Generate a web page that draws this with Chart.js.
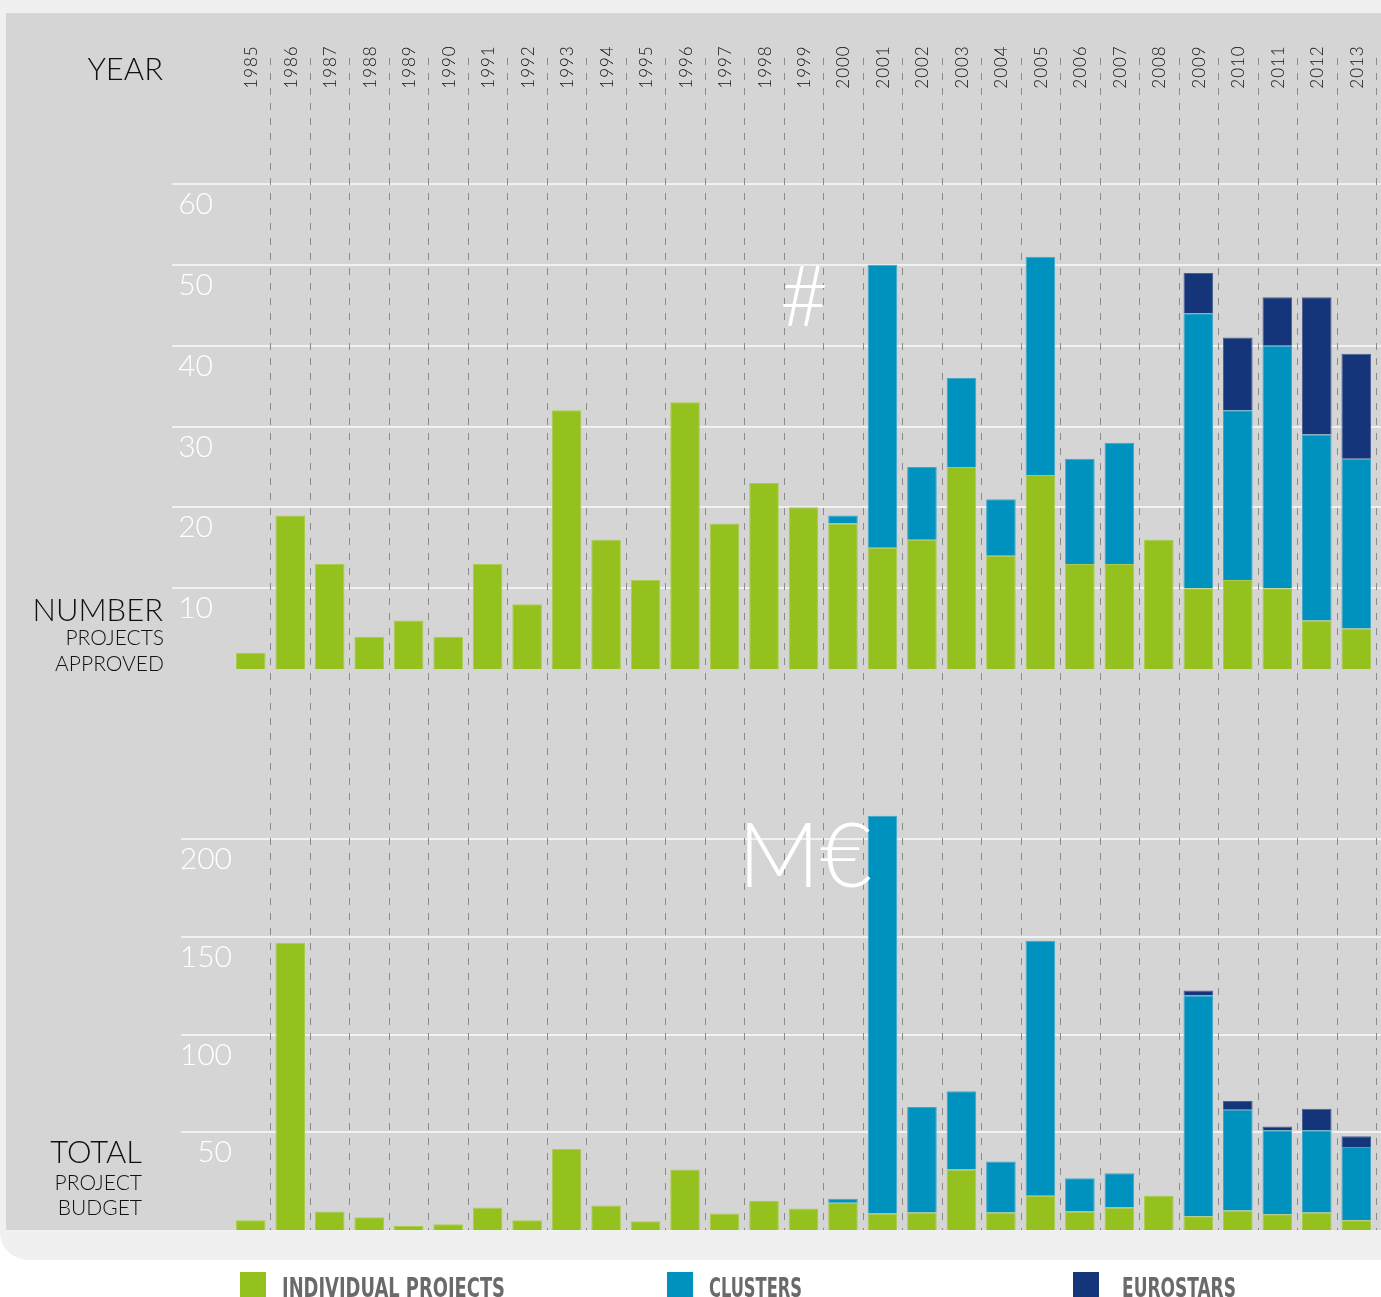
<!DOCTYPE html>
<html>
<head>
<meta charset="utf-8">
<title>Projects approved and total project budget, 1985–2013</title>
<script src="https://cdn.jsdelivr.net/npm/chart.js@4.4.1/dist/chart.umd.min.js"></script>
<style>
  html, body { margin: 0; padding: 0; background: #ffffff; }
  #wrap { position: relative; width: 1381px; height: 1297px; overflow: hidden; }
  #frame { position: absolute; left: 0; top: 0; width: 1381px; height: 1260px; background: #f0f0f0; border-bottom-left-radius: 28px; }
  #panel { position: absolute; left: 6px; top: 13px; width: 1375px; height: 1217px; background: #d5d5d5; }
  canvas { position: absolute; left: 0; }
  #countChart { top: 0; }
  #budgetChart { top: 750px; }
  svg { position: absolute; left: 0; top: 0; pointer-events: none; }
</style>
</head>
<body>
<div id="wrap">
  <div id="frame"></div>
  <div id="panel"></div>
  <canvas id="countChart" width="1381" height="750"></canvas>
  <canvas id="budgetChart" width="1381" height="500"></canvas>
  <svg width="1381" height="1297" xmlns="http://www.w3.org/2000/svg">
    <g font-family="Lato, 'Open Sans', sans-serif" font-weight="300" fill="#111111" text-anchor="end">
      <text x="163" y="80" font-size="31">YEAR</text>
      <text x="163" y="621" font-size="31">NUMBER</text>
      <text x="164" y="645" font-size="21">PROJECTS</text>
      <text x="164" y="671" font-size="21">APPROVED</text>
      <text x="142" y="1163" font-size="31">TOTAL</text>
      <text x="142" y="1190" font-size="21">PROJECT</text>
      <text x="142" y="1215" font-size="21">BUDGET</text>
    </g>
    <g font-family="Lato, 'Open Sans', sans-serif" font-weight="300" fill="#ffffff" text-anchor="middle">
      <text x="804" y="326" font-size="84">#</text>
      <text x="805" y="887" font-size="90">M€</text>
    </g>
    <g id="legend" font-family="'Liberation Sans Narrow', 'DejaVu Sans Condensed', sans-serif" font-weight="bold" font-size="26" fill="#6a6a6a"></g>
  </svg>
</div>
<script>
// Years on the shared category axis
const years = ['1985','1986','1987','1988','1989','1990','1991','1992','1993','1994',
               '1995','1996','1997','1998','1999','2000','2001','2002','2003','2004',
               '2005','2006','2007','2008','2009','2010','2011','2012','2013'];

// Number of projects approved per year
const countIndividual = [2,19,13,4,6,4,13,8,32,16,11,33,18,23,20,18,15,16,25,14,24,13,13,16,10,11,10,6,5];
const countClusters   = [null,null,null,null,null,null,null,null,null,null,null,null,null,null,null,
                         1,35,9,11,7,27,13,15,null,34,21,30,23,21];
const countEurostars  = [null,null,null,null,null,null,null,null,null,null,null,null,null,null,null,
                         null,null,null,null,null,null,null,null,null,5,9,6,17,13];

// Total project budget per year (M€)
const budgetIndividual = [5,147,9.5,6.5,2,3,11.5,5,41.5,12.5,4.5,31,8.5,15,11,14,8.5,9,31,9,17.5,9.5,11.5,17.5,7,10,8,9,5];
const budgetClusters   = [null,null,null,null,null,null,null,null,null,null,null,null,null,null,null,
                          2,203.5,54,40,26,130.5,17,17.5,null,113,51.5,43,42,37.5];
const budgetEurostars  = [null,null,null,null,null,null,null,null,null,null,null,null,null,null,null,
                          null,null,null,null,null,null,null,null,null,2.5,4.5,2,11,5.5];

// Value-axis tick labels
const countTicks  = [10,20,30,40,50,60];
const budgetTicks = [50,100,150,200];

// Series names and colours
const seriesNames = ['INDIVIDUAL PROJECTS','CLUSTERS','EUROSTARS'];
const seriesFill  = ['#95c11f','#0092be','#14357a'];
const seriesEdge  = ['#a9cc4c','#3fa6cb','#4a5f93'];

// Grid lines, value labels, dashed year separators and year labels
const decor = {
  id: 'decor',
  beforeDatasetsDraw(chart, args, opts) {
    const ctx = chart.ctx;
    const xs = chart.scales.x, ys = chart.scales.y;
    ctx.save();

    // horizontal value grid
    ctx.strokeStyle = '#f1f1f1';
    ctx.lineWidth = 2;
    opts.ticks.forEach(v => {
      const py = Math.round(ys.getPixelForValue(v));
      ctx.beginPath();
      ctx.moveTo(opts.gridLeft, py);
      ctx.lineTo(chart.width, py);
      ctx.stroke();
    });

    // value labels sit just under their grid line
    ctx.fillStyle = '#ffffff';
    ctx.font = '300 30px Lato, "Open Sans", sans-serif';
    ctx.textAlign = 'right';
    ctx.textBaseline = 'alphabetic';
    opts.ticks.forEach(v => {
      ctx.fillText(String(v), opts.labelRight, ys.getPixelForValue(v) + 30);
    });

    // dashed separators between years
    ctx.strokeStyle = '#8a8a8a';
    ctx.lineWidth = 1;
    ctx.setLineDash([7, 8]);
    ctx.lineDashOffset = opts.dashOffset;
    const n = chart.data.labels.length;
    for (let i = 0; i < n; i++) {
      const px = Math.round(xs.getPixelForValue(i + 0.5)) + 0.5;
      ctx.beginPath();
      ctx.moveTo(px, opts.lineTop);
      ctx.lineTo(px, opts.lineBottom === null ? chart.height : opts.lineBottom);
      ctx.stroke();
    }
    ctx.setLineDash([]);

    // rotated year labels along the top
    if (opts.yearLabels) {
      ctx.fillStyle = '#111111';
      ctx.font = '300 17px Lato, "Open Sans", sans-serif';
      ctx.letterSpacing = '1px';
      ctx.textAlign = 'center';
      ctx.textBaseline = 'middle';
      chart.data.labels.forEach((lab, i) => {
        const cx = xs.getPixelForValue(i);
        ctx.save();
        ctx.translate(cx + 1, 67);
        ctx.rotate(-Math.PI / 2);
        ctx.fillText(lab, 0, 0);
        ctx.restore();
      });
      ctx.letterSpacing = '0px';
    }
    ctx.restore();
  }
};

function stackedBars(canvasId, series, max, padding, decorOpts) {
  return new Chart(document.getElementById(canvasId), {
    type: 'bar',
    data: {
      labels: years,
      datasets: series.map((d, k) => ({
        label: seriesNames[k],
        data: d,
        backgroundColor: seriesFill[k],
        borderColor: seriesEdge[k],
        borderWidth: 1,
        barPercentage: 0.75,
        categoryPercentage: 1
      }))
    },
    options: {
      responsive: false,
      animation: false,
      devicePixelRatio: 1,
      layout: { padding: padding },
      plugins: {
        legend: { display: false },
        tooltip: { enabled: false },
        decor: decorOpts
      },
      scales: {
        x: { display: false, stacked: true },
        y: { display: false, stacked: true, min: 0, max: max }
      }
    },
    plugins: [decor]
  });
}

stackedBars('countChart', [countIndividual, countClusters, countEurostars], 60,
  { left: 231, right: 5, top: 184, bottom: 81 },
  { ticks: countTicks, gridLeft: 172, labelRight: 213, lineTop: 58, lineBottom: null, dashOffset: 0, yearLabels: true });

stackedBars('budgetChart', [budgetIndividual, budgetClusters, budgetEurostars], 218,
  { left: 231, right: 5, top: 54, bottom: 20 },
  { ticks: budgetTicks, gridLeft: 181, labelRight: 232, lineTop: 0, lineBottom: 480, dashOffset: 2, yearLabels: false });

// Legend under the panel
const legendPos = [
  { box: 240,  text: 282,  width: 223 },
  { box: 667,  text: 709,  width: 93 },
  { box: 1073, text: 1122, width: 114 }
];
const ns = 'http://www.w3.org/2000/svg';
const legend = document.getElementById('legend');
seriesNames.forEach((name, k) => {
  const r = document.createElementNS(ns, 'rect');
  r.setAttribute('x', legendPos[k].box);
  r.setAttribute('y', 1272);
  r.setAttribute('width', 26);
  r.setAttribute('height', 26);
  r.setAttribute('fill', seriesFill[k]);
  legend.appendChild(r);
  const t = document.createElementNS(ns, 'text');
  t.setAttribute('x', legendPos[k].text);
  t.setAttribute('y', 1297);
  t.setAttribute('textLength', legendPos[k].width);
  t.setAttribute('lengthAdjust', 'spacingAndGlyphs');
  t.textContent = name;
  legend.appendChild(t);
});
</script>
</body>
</html>
